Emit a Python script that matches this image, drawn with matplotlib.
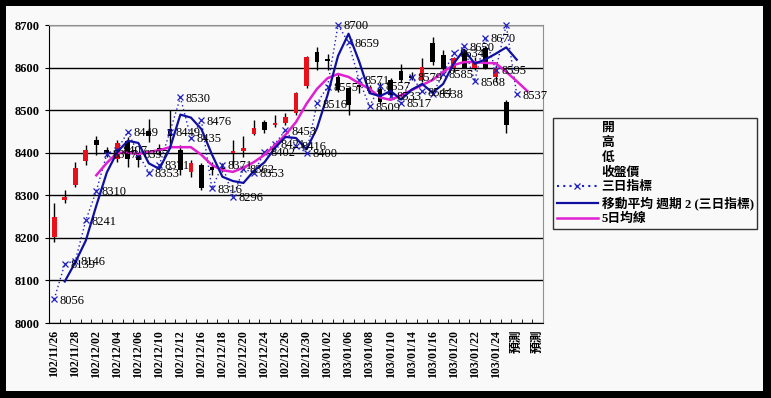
import numpy as np
import pandas as pd
import matplotlib
matplotlib.use('Agg')
import matplotlib.pyplot as plt
from matplotlib.lines import Line2D
from matplotlib.patches import Rectangle

plt.rcParams['font.family'] = ['Liberation Serif', 'Noto Sans CJK TC', 'DejaVu Sans']

# category axis: trading days + forecast slots
dates = ['102/11/26', '102/11/27', '102/11/28', '102/11/29', '102/12/02', '102/12/03',
         '102/12/04', '102/12/05', '102/12/06', '102/12/09', '102/12/10', '102/12/11',
         '102/12/12', '102/12/13', '102/12/16', '102/12/17', '102/12/18', '102/12/19',
         '102/12/20', '102/12/23', '102/12/24', '102/12/25', '102/12/26', '102/12/27',
         '102/12/30', '102/12/31', '103/01/02', '103/01/03', '103/01/06', '103/01/07',
         '103/01/08', '103/01/09', '103/01/10', '103/01/13', '103/01/14', '103/01/15',
         '103/01/16', '103/01/17', '103/01/20', '103/01/21', '103/01/22', '103/01/23',
         '103/01/24', '103/01/27', '預測', '預測', '預測']

# OHLC (開, 高, 低, 收盤價)
opens = [8202, 8290, 8324, 8380, 8430, 8406, 8385, 8428, 8395, 8450, 8410, 8455,
         8406, 8355, 8371, 8367, 8365, 8400, 8403, 8444, 8472, 8465, 8470, 8493,
         8556, 8636, 8620, 8578, 8552, 8560, 8545, 8550, 8570, 8593, 8580, 8570,
         8658, 8630, 8598, 8634, 8600, 8645, 8578, 8519]
highs = [8282, 8312, 8378, 8418, 8439, 8413, 8430, 8437, 8400, 8480, 8420, 8500,
         8418, 8383, 8376, 8378, 8375, 8430, 8440, 8477, 8477, 8488, 8493, 8543,
         8627, 8648, 8632, 8587, 8554, 8565, 8560, 8565, 8575, 8608, 8590, 8622,
         8672, 8641, 8625, 8640, 8625, 8650, 8605, 8524]
lows = [8190, 8282, 8320, 8371, 8395, 8390, 8378, 8366, 8367, 8425, 8395, 8410,
        8348, 8343, 8312, 8348, 8355, 8366, 8390, 8441, 8446, 8460, 8465, 8489,
        8552, 8594, 8595, 8543, 8489, 8540, 8540, 8515, 8530, 8566, 8570, 8566,
        8606, 8587, 8590, 8598, 8595, 8597, 8565, 8446]
closes = [8249, 8296, 8364, 8406, 8418, 8398, 8422, 8385, 8383, 8440, 8405, 8440,
          8360, 8376, 8317, 8360, 8362, 8405, 8410, 8458, 8453, 8470, 8484, 8540,
          8625, 8613, 8615, 8547, 8512, 8555, 8555, 8520, 8535, 8570, 8575, 8601,
          8613, 8598, 8622, 8600, 8612, 8600, 8600, 8465]

# 三日指標
indicator = [8056, 8139, 8146, 8241, 8310, 8397, 8407, 8449, 8397, 8353, 8371, 8449,
             8530, 8435, 8476, 8316, 8371, 8296, 8362, 8353, 8402, 8421, 8453, 8416,
             8400, 8516, 8555, 8700, 8659, 8571, 8509, 8557, 8533, 8517, 8579, 8544,
             8538, 8585, 8634, 8650, 8568, 8670, 8595, 8700, 8537]

# 5日均線 (starts on the 5th day)
ma5 = [8347, 8376, 8400, 8400, 8397, 8402, 8406, 8413, 8413, 8413, 8395, 8371,
       8359, 8355, 8365, 8378, 8395, 8418, 8442, 8472, 8515, 8550, 8575, 8585,
       8578, 8563, 8550, 8530, 8524, 8535, 8547, 8559, 8571, 8590, 8606, 8613,
       8613, 8611, 8610, 8590, 8568, 8545]

fig = plt.figure(figsize=(7.71, 3.98), dpi=100, facecolor='black')
fig.patches.append(Rectangle((6 / 771, 7 / 398), 757 / 771, 385 / 398,
                             transform=fig.transFigure, facecolor='#f9f9f9',
                             edgecolor='none', zorder=-10))
ax = fig.add_axes([49 / 771, 1 - 323 / 398, 494 / 771, 298 / 398])
ax.set_facecolor('#f9f9f9')

x = np.arange(len(opens))
for i in x:
    up = closes[i] >= opens[i]
    ax.vlines(i, lows[i], highs[i], color='black', lw=1, zorder=2)
    ax.bar(i, abs(closes[i] - opens[i]) or 2, bottom=min(opens[i], closes[i]), width=0.45,
           color='#e8101a' if up else 'black', zorder=3)

xi = np.arange(len(indicator))
ax.plot(xi, indicator, color='#2020c0', ls=(0, (1, 2)), lw=1, marker='x', ms=5,
        mew=0.9, zorder=4, clip_on=False)
for i, v in zip(xi, indicator):
    if i == 43:
        continue
    ax.annotate(str(v), (i, v), xytext=(4, -1), textcoords='offset points',
                ha='left', va='center', fontsize=9, color='black', zorder=6)

trend = pd.Series(indicator).rolling(2).mean()
ax.plot(xi, trend, color='#1010a0', lw=1.6, zorder=5)
ax.plot(np.arange(4, 4 + len(ma5)), ma5, color='#e020d0', lw=1.8, zorder=4)

ax.set_xlim(-0.5, len(dates) - 0.5)
ax.set_ylim(8000, 8700)
ax.set_yticks(range(8000, 8701, 100))
ax.set_yticklabels([str(v) for v in range(8000, 8701, 100)], fontsize=9, fontweight='bold')
ax.yaxis.grid(True, color='black', lw=1)
ax.set_axisbelow(True)
ax.set_xticks(range(0, len(dates), 2))
ax.set_xticklabels(dates[::2], rotation=90, fontsize=8.5, fontweight='bold', va='top')
ax.set_xticks(np.arange(-0.5, len(dates), 1), minor=True)
ax.tick_params(axis='x', which='major', length=0, pad=5)
ax.tick_params(axis='x', which='minor', length=3, direction='in')
ax.tick_params(axis='y', length=3, direction='out', pad=4)
for s in ['top', 'right']:
    ax.spines[s].set_color('#909090')
for s in ['left', 'bottom']:
    ax.spines[s].set_color('black')

blank = Line2D([], [], ls='none')
handles = [blank, blank, blank, blank,
           Line2D([], [], color='#2020c0', ls=(0, (1, 2)), marker='x', ms=5, mew=0.9),
           Line2D([], [], color='#1010a0', lw=1.6),
           Line2D([], [], color='#e020d0', lw=1.8)]
labels = ['開', '高', '低', '收盤價', '三日指標', '移動平均 週期 2 (三日指標)', '5日均線']
leg = fig.legend(handles, labels, loc='upper left', bbox_to_anchor=(553 / 771, 1 - 118 / 398),
                 frameon=True, fancybox=False, edgecolor='black', facecolor='#f9f9f9',
                 fontsize=9.2, handlelength=3.2, handletextpad=0.3, labelspacing=0.22,
                 borderpad=0.3, borderaxespad=0)
leg.get_frame().set_linewidth(1)
for t in leg.get_texts():
    t.set_fontweight('bold')

fig.savefig('out.png', dpi=100, facecolor='black')
